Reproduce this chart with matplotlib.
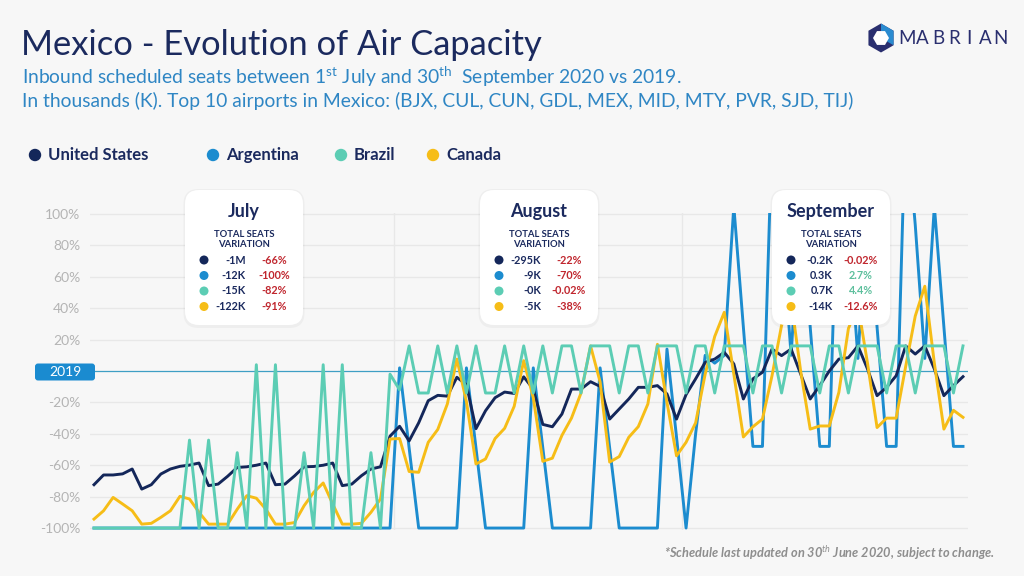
import numpy as np
import matplotlib
matplotlib.use("Agg")
import matplotlib.pyplot as plt
from matplotlib.patches import FancyBboxPatch, RegularPolygon, Polygon

plt.rcParams['font.family'] = ['Lato', 'DejaVu Sans']
plt.rcParams['mathtext.fontset'] = 'custom'
plt.rcParams['mathtext.rm'] = 'Lato'
plt.rcParams['mathtext.it'] = 'Lato:italic'
plt.rcParams['mathtext.bf'] = 'Lato:bold'

# ---------------- data ----------------
month_names = ["July", "August", "September"]
month_days = [31, 31, 30]

united_states = [
    -72.4, -66.2, -66.2, -65.5, -62.4, -75.2, -72.4, -65.6, -62.4, -60.7,
    -59.9, -58.6, -73.0, -72.0, -67.0, -61.4, -61.0, -60.0, -58.6, -72.4,
    -72.0, -66.8, -61.0, -60.8, -60.0, -58.6, -73.0, -72.0, -66.7, -62.4,
    -61.0, -41.5, -35.2, -44.5, -33.0, -18.9, -15.5, -16.0, -4.0, -8.7,
    -36.7, -25.3, -17.0, -13.4, -14.3, -3.7, -11.5, -34.0, -35.5, -27.4,
    -11.5, -11.5, -6.8, -9.8, -30.6, -24.2, -17.8, -10.4, -10.4, -9.3,
    -14.6, -30.6, -15.0, -5.0, 5.5, 7.6, 11.9, 4.5, -17.8, -5.0,
    -0.8, 14.0, 9.8, 14.0, -1.9, -17.8, -9.3, 0.0, 7.6, 8.5,
    16.0, 1.3, -15.7, -10.4, -3.0, 16.0, 10.8, 16.0, 1.3, -15.7,
    -9.3, -3.6]

argentina = [
    -100, -100, -100, -100, -100, -100, -100, -100, -100, -100,
    -100, -100, -100, -100, -100, -100, -100, -100, -100, -100,
    -100, -100, -100, -100, -100, -100, -100, -100, -100, -100,
    -100, -100, 2, -49, -100, -100, -100, -100, -100, 2,
    -49, -100, -100, -100, -100, -100, 2, -49, -100, -100,
    -100, -100, -100, 2, -49, -100, -100, -100, -100, -100,
    14, -42, -100, -40, 10, 5, 10, 105, 28, -48,
    -48, 150, 93, 10, 110, 28, -48, -48, 150, 93,
    8, 110, 28, -48, -48, 165, 93, 8, 105, 28,
    -48, -48]

brazil = [
    -100, -100, -100, -100, -100, -100, -100, -100, -100, -100,
    -44, -100, -44, -100, -100, -52, -100, 4, -100, 4,
    -100, -100, -52, -100, 4, -100, 4, -100, -100, -52,
    -100, -2, -12, 16, -14, -14, 16, -14, 16, -14,
    16, -14, -14, 16, -14, 16, -14, 16, -14, 16,
    16, -14, 16, 16, 16, -14, 16, 16, -14, 16,
    16, 16, -14, 16, 16, -14, 16, 16, 16, -14,
    16, 16, -14, 16, 16, 16, -14, 16, 16, -14,
    16, 16, 16, -14, 16, 16, -14, 16, 16, 16,
    -14, 16]

canada = [
    -94.3, -89.0, -80.5, -84.7, -89.0, -97.5, -97.0, -93.2, -89.0, -79.8,
    -81.5, -90.0, -97.5, -97.5, -97.5, -88.0, -79.4, -81.0, -88.0, -97.5,
    -97.5, -96.5, -85.8, -77.3, -71.3, -84.7, -97.5, -97.5, -97.0, -90.0,
    -81.5, -43.3, -43.0, -64.0, -64.5, -45.4, -37.2, -21.0, 7.6, -19.5,
    -59.2, -56.0, -43.0, -36.5, -22.5, 6.6, -17.0, -57.5, -55.5, -41.0,
    -30.0, -14.0, 16.0, -7.0, -58.0, -54.5, -42.2, -35.4, -21.0, 17.0,
    -20.0, -54.0, -45.4, -33.0, -2.0, 22.0, 37.4, -2.0, -42.0, -35.5,
    -30.6, -3.0, 29.0, 45.0, 0.0, -37.0, -35.0, -35.0, -13.6, 27.0,
    42.0, 5.0, -36.0, -30.0, -30.0, 3.0, 35.0, 54.0, 5.0, -37.0,
    -25.0, -29.5]

series_names = ["United States", "Argentina", "Brazil", "Canada"]

ytick_values = [100, 80, 60, 40, 20, 0, -20, -40, -60, -80, -100]
ytick_labels = ["100%", "80%", "60%", "40%", "20%", "", "-20%", "-40%", "-60%", "-80%", "-100%"]
baseline_label = "2019"

seats_july = ["-1M", "-12K", "-15K", "-122K"]
pct_july = ["-66%", "-100%", "-82%", "-91%"]
seats_aug = ["-295K", "-9K", "-0K", "-5K"]
pct_aug = ["-22%", "-70%", "-0.02%", "-38%"]
seats_sep = ["-0.2K", "0.3K", "0.7K", "-14K"]
pct_sep = ["-0.02%", "2.7%", "4.4%", "-12.6%"]

# ---------------- style ----------------
BG = "#f7f7f7"
NAVY = "#1b2a5e"
C_US = "#14275a"
C_ARG = "#1c8ccf"
C_BRA = "#5ccdb4"
C_CAN = "#f6bd17"
SUB = "#2f86c4"
RED = "#c0262e"
GREEN = "#5cbf9c"
colors = [C_US, C_ARG, C_BRA, C_CAN]

W, H = 1024, 576
fig = plt.figure(figsize=(W / 100, H / 100), dpi=100, facecolor=BG)

def fy(y):
    return 1 - y / H

px_day = 9.55
ax_left, ax_right, ax_top, ax_bot = 90, 968, 213.2, 530.4
ax = fig.add_axes([ax_left / W, fy(ax_bot), (ax_right - ax_left) / W, (ax_bot - ax_top) / H])
ax.set_facecolor(BG)
days = np.arange(sum(month_days))
ax.set_xlim(-4 / px_day, days[-1] + 5 / px_day)
ax.set_ylim(-101.5, 100.5)
for s in ax.spines.values():
    s.set_visible(False)
ax.set_xticks([])
ax.set_yticks(ytick_values)
ax.set_yticklabels(ytick_labels)
ax.tick_params(axis='y', length=0, pad=7, labelcolor="#b4b4b4", labelsize=10)

for v in ytick_values:
    if v == 0:
        ax.axhline(v, color="#3f9fc4", lw=0.9, zorder=1)
    else:
        ax.axhline(v, color="#e8e8e8", lw=1.0, zorder=0)
for xv in [31.4, 61.6]:
    ax.axvline(xv, color="#e8e8e8", lw=1.0, zorder=0)

ax.plot(days, argentina, color=C_ARG, lw=2.1, zorder=3, solid_joinstyle='round')
ax.plot(days, united_states, color=C_US, lw=2.1, zorder=4, solid_joinstyle='round')
ax.plot(days, canada, color=C_CAN, lw=2.1, zorder=5, solid_joinstyle='round')
ax.plot(days, brazil, color=C_BRA, lw=2.1, zorder=6, solid_joinstyle='round')

# ---------------- overlay (pixel coords) ----------------
ov = fig.add_axes([0, 0, 1, 1])
ov.set_xlim(0, W)
ov.set_ylim(H, 0)
ov.axis('off')
ov.set_zorder(5)

ov.text(21, 55, "Mexico - Evolution of Air Capacity", fontsize=24.8, color=NAVY, va='baseline', ha='left')
ov.text(22, 84, r"Inbound scheduled seats between 1$^{\rm st}$ July and 30$^{\rm th}$  September 2020 vs 2019.",
        fontsize=13.9, color=SUB, va='baseline', ha='left')
ov.text(22, 107, "In thousands (K). Top 10 airports in Mexico: (BJX, CUL, CUN, GDL, MEX, MID, MTY, PVR, SJD, TIJ)",
        fontsize=13.9, color=SUB, va='baseline', ha='left')

# logo
ov.add_patch(RegularPolygon((881, 38), numVertices=6, radius=14.5, orientation=0, fc="#2a2f6f", ec='none'))
ov.add_patch(Polygon([(881, 23.5), (893.5, 30.8), (893.5, 45.2), (881, 38)], closed=True, fc="#2a8bd0", ec='none'))
ov.add_patch(RegularPolygon((881, 38), numVertices=6, radius=8, orientation=np.pi / 6, fc="white", ec='none'))
logo_letters = "MABRIAN"
for k, ch in enumerate(logo_letters):
    ov.text(907 + k * 15.6, 39, ch, fontsize=13.5, color="#2a2f6f", ha='center', va='center')

# legend row
leg_x = [35, 213, 341, 433]
for x0, name, c in zip(leg_x, series_names, colors):
    ov.scatter([x0], [155], s=80, color=c, edgecolors='none')
    ov.text(x0 + 13, 155, name, fontsize=12, fontweight='bold', color=NAVY, va='center', ha='left')

# 2019 badge
ov.add_patch(FancyBboxPatch((35, 363.5), 60, 17, boxstyle="round,pad=0,rounding_size=3", fc="#1a8bd0", ec='none'))
ov.text(65, 372.5, baseline_label, color='white', fontsize=10, ha='center', va='center')

# month boxes
box_lefts = [185, 480, 772]
seats_all = [seats_july, seats_aug, seats_sep]
pct_all = [pct_july, pct_aug, pct_sep]
row_y = [260, 275.5, 291, 306.5]
for bl, mname, seats, pcts in zip(box_lefts, month_names, seats_all, pct_all):
    ov.add_patch(FancyBboxPatch((bl - 1.5, 189), 121, 139, boxstyle="round,pad=0,rounding_size=15",
                                fc="#000000", alpha=0.035, ec='none'))
    ov.add_patch(FancyBboxPatch((bl, 190), 118, 135, boxstyle="round,pad=0,rounding_size=14",
                                fc="white", ec='none'))
    cx = bl + 59
    ov.text(cx, 212, mname, fontsize=13, fontweight='bold', color=NAVY, ha='center', va='center')
    ov.text(cx, 234.5, "TOTAL SEATS", fontsize=6.8, fontweight='bold', color=NAVY, ha='center', va='center')
    ov.text(cx, 244.5, "VARIATION", fontsize=6.8, fontweight='bold', color=NAVY, ha='center', va='center')
    for ry, c, sv, pv in zip(row_y, colors, seats, pcts):
        ov.scatter([bl + 19], [ry], s=42, color=c, edgecolors='none')
        ov.text(bl + 61, ry, sv, fontsize=7.8, fontweight='bold', color=NAVY, ha='right', va='center')
        ov.text(bl + 89, ry, pv, fontsize=7.8, color=(RED if pv.startswith('-') else GREEN),
                ha='center', va='center', fontweight='bold')

ov.text(995, 558, r"*Schedule last updated on 30$^{\it th}$ June 2020, subject to change.",
        fontsize=9.2, style='italic', fontweight='bold', color="#8e8e8e", ha='right', va='baseline')

fig.savefig("out.png", dpi=100, facecolor=BG)
